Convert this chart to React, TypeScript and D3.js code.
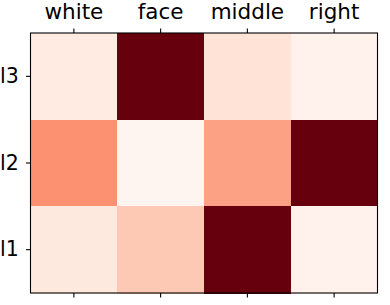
import React, { useRef, useEffect } from "react";
import * as d3 from "d3";

// categories
const columns = ["white", "face", "middle", "right"];
const rows = ["l3", "l2", "l1"];

// cell values per row (0..1, Reds colormap)
const l3Values = [0.06, 1.0, 0.1, 0.015];
const l2Values = [0.38, 0.0, 0.33, 1.0];
const l1Values = [0.07, 0.2, 1.0, 0.015];

export default function App() {
  const svgRef = useRef<SVGSVGElement>(null);

  useEffect(() => {
    const svg = d3.select(svgRef.current);
    svg.selectAll("*").remove();

    const width = 390;
    const height = 305;
    const margin = { top: 33, right: 12.5, bottom: 12, left: 30.5 };

    svg.attr("width", width).attr("height", height);

    const cells = rows.flatMap((r, i) => {
      const vals = [l3Values, l2Values, l1Values][i];
      return columns.map((c, j) => ({ row: r, col: c, value: vals[j] }));
    });

    // scales
    const x = d3.scaleBand()
      .domain(columns)
      .range([margin.left, width - margin.right]);
    const y = d3.scaleBand()
      .domain(rows)
      .range([margin.top, height - margin.bottom]);
    const color = d3.scaleSequential(d3.interpolateReds).domain([0, 1]);

    svg.append("g")
      .selectAll("rect")
      .data(cells)
      .join("rect")
      .attr("x", d => x(d.col)!)
      .attr("y", d => y(d.row)!)
      .attr("width", x.bandwidth() + 0.5)
      .attr("height", y.bandwidth() + 0.5)
      .attr("fill", d => color(d.value))
      .attr("shape-rendering", "crispEdges");

    // axes
    const top = svg.append("g")
      .attr("transform", `translate(0,${margin.top})`)
      .call(d3.axisTop(x).tickSize(4.5).tickPadding(9.5));
    const bottom = svg.append("g")
      .attr("transform", `translate(0,${height - margin.bottom})`)
      .call(d3.axisBottom(x).tickSize(4.5).tickFormat(() => ""));
    const left = svg.append("g")
      .attr("transform", `translate(${margin.left},0)`)
      .call(d3.axisLeft(y).tickSize(4.5));

    [top, bottom, left].forEach(g => {
      g.select(".domain").remove();
      g.selectAll("line").attr("stroke", "#000").attr("stroke-width", 1.1);
      g.selectAll("text")
        .attr("fill", "#000")
        .style("font-family", "'DejaVu Sans', sans-serif")
        .style("font-size", "21.5px");
    });
    // row labels sit flush with the left edge
    left.selectAll("text")
      .attr("text-anchor", "start")
      .attr("x", -margin.left)
      .style("font-size", "20.5px");

    // frame
    svg.append("rect")
      .attr("x", margin.left)
      .attr("y", margin.top)
      .attr("width", width - margin.left - margin.right)
      .attr("height", height - margin.top - margin.bottom)
      .attr("fill", "none")
      .attr("stroke", "#000")
      .attr("stroke-width", 1.1);
  }, []);

  return (
    <div style={{ position: "absolute", left: 0, top: 0 }}>
      <svg ref={svgRef} style={{ display: "block" }} />
    </div>
  );
}
